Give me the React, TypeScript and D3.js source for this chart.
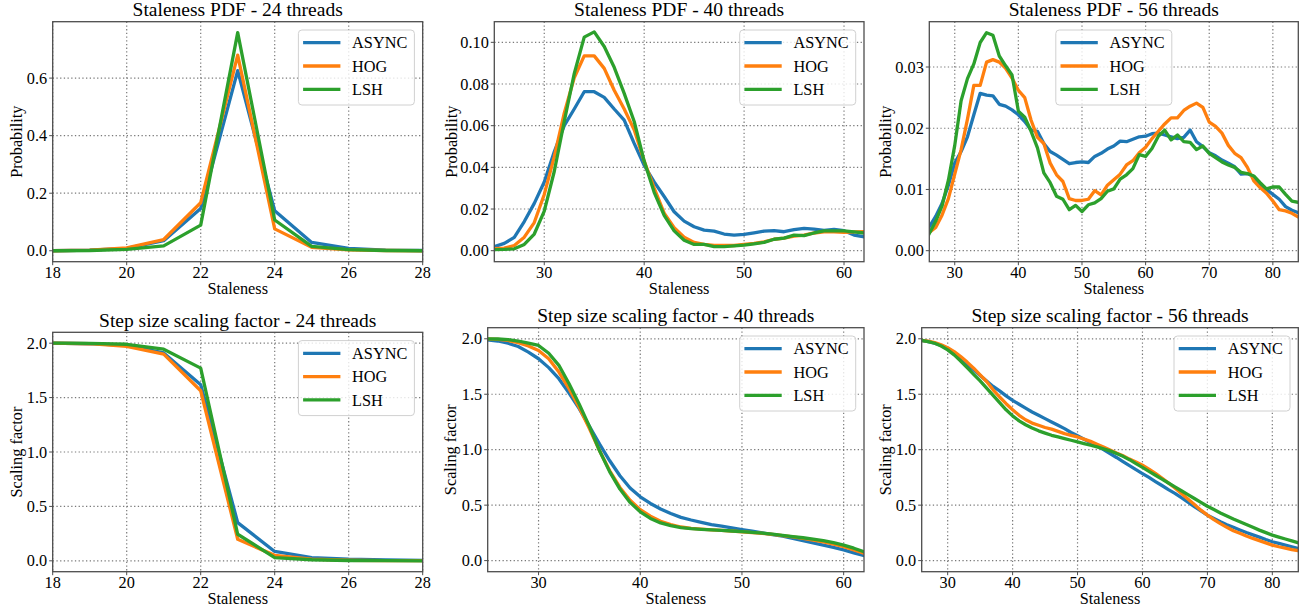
import React, { useRef, useEffect } from "react";
import * as d3 from "d3";

const SERIES = ["ASYNC", "HOG", "LSH"];
const COLORS = ["#1f77b4", "#ff7f0e", "#2ca02c"];

// staleness values (x axis)
const stal24 = d3.range(18, 29);
const stal40 = d3.range(25, 63);
const stal56 = d3.range(26, 85);

// staleness pdf, 24 threads
const pdf24Async = [0, 0.002, 0.008, 0.035, 0.147, 0.626, 0.139, 0.029, 0.008, 0.002, 0.001];
const pdf24Hog = [0, 0.002, 0.01, 0.039, 0.167, 0.68, 0.076, 0.012, 0.003, 0.001, 0];
const pdf24Lsh = [0, 0.001, 0.005, 0.017, 0.089, 0.758, 0.107, 0.015, 0.004, 0.001, 0];

// staleness pdf, 40 threads
const pdf40Async = [0.0019, 0.0035, 0.0064, 0.014, 0.0227, 0.033, 0.0475, 0.06, 0.068, 0.0763, 0.0763, 0.0736,
  0.068, 0.0627, 0.0515, 0.041, 0.033, 0.026, 0.0187, 0.0142, 0.0115, 0.0099, 0.0094, 0.008, 0.0075, 0.0078,
  0.0086, 0.0094, 0.0096, 0.0091, 0.0101, 0.0107, 0.0104, 0.0098, 0.0102, 0.0096, 0.0075, 0.0067];
const pdf40Hog = [0.001, 0.0012, 0.0025, 0.0065, 0.0135, 0.027, 0.045, 0.066, 0.083, 0.0935, 0.0935, 0.0875,
  0.077, 0.068, 0.058, 0.043, 0.03, 0.018, 0.011, 0.0065, 0.004, 0.003, 0.0025, 0.0025, 0.0025, 0.003,
  0.0035, 0.0042, 0.0055, 0.006, 0.007, 0.0075, 0.0085, 0.009, 0.009, 0.0088, 0.009, 0.0092];
const pdf40Lsh = [0.0005, 0.0006, 0.0009, 0.003, 0.008, 0.019, 0.038, 0.062, 0.085, 0.1025, 0.105, 0.098,
  0.088, 0.0755, 0.062, 0.043, 0.028, 0.017, 0.0095, 0.005, 0.003, 0.003, 0.002, 0.002, 0.0023, 0.0027,
  0.0033, 0.004, 0.0055, 0.006, 0.0075, 0.0072, 0.0085, 0.0095, 0.0095, 0.0095, 0.009, 0.0085];

// staleness pdf, 56 threads
const pdf56Async = [0.0039, 0.0056, 0.0077, 0.0107, 0.0143, 0.0162, 0.0186, 0.0222, 0.0257, 0.0254, 0.0253,
  0.0239, 0.0236, 0.023, 0.0222, 0.0211, 0.0197, 0.0195, 0.0175, 0.0162, 0.0156, 0.0149, 0.0142, 0.0144,
  0.0145, 0.0144, 0.0154, 0.0159, 0.0166, 0.0171, 0.0179, 0.0178, 0.0182, 0.0186, 0.0187, 0.0191, 0.0192,
  0.0189, 0.0186, 0.0183, 0.0185, 0.0197, 0.0178, 0.017, 0.016, 0.0155, 0.0148, 0.0143, 0.0137, 0.0125,
  0.0126, 0.0121, 0.0105, 0.01, 0.0092, 0.0084, 0.0072, 0.0066, 0.0062];
const pdf56Hog = [0.003, 0.0038, 0.0058, 0.0085, 0.0125, 0.0165, 0.0215, 0.027, 0.027, 0.0308, 0.0312,
  0.0308, 0.0298, 0.0282, 0.0262, 0.025, 0.0213, 0.0185, 0.0175, 0.0143, 0.0124, 0.0113, 0.0085, 0.0082,
  0.0082, 0.0084, 0.0098, 0.0091, 0.0107, 0.0116, 0.0125, 0.014, 0.0147, 0.016, 0.0169, 0.0183, 0.0195,
  0.0207, 0.0217, 0.0217, 0.0229, 0.0236, 0.0241, 0.0234, 0.021, 0.0203, 0.0192, 0.0172, 0.0159, 0.0152,
  0.0136, 0.0114, 0.0103, 0.0094, 0.0081, 0.0067, 0.0065, 0.0061, 0.0055];
const pdf56Lsh = [0.0028, 0.0048, 0.0073, 0.0115, 0.0172, 0.0245, 0.0281, 0.0305, 0.034, 0.0356, 0.0352,
  0.0318, 0.0302, 0.0287, 0.0228, 0.0218, 0.0195, 0.0168, 0.0127, 0.0111, 0.0089, 0.0084, 0.0067, 0.0074,
  0.0064, 0.0075, 0.0078, 0.0085, 0.0097, 0.0101, 0.0117, 0.0124, 0.0134, 0.0157, 0.0154, 0.0167, 0.0187,
  0.0197, 0.0181, 0.0189, 0.0178, 0.0177, 0.0165, 0.0171, 0.0159, 0.0152, 0.0145, 0.014, 0.0136, 0.0128,
  0.0126, 0.0122, 0.0111, 0.0101, 0.0104, 0.0104, 0.0092, 0.0081, 0.0079];

// step size scaling factor, 24 threads
const step24Async = [2.0, 1.995, 1.98, 1.91, 1.618, 0.351, 0.086, 0.03, 0.015, 0.008, 0.005];
const step24Hog = [2.0, 1.995, 1.97, 1.9, 1.563, 0.198, 0.05, 0.015, 0.005, 0.002, 0.001];
const step24Lsh = [2.0, 1.998, 1.99, 1.945, 1.771, 0.244, 0.03, 0.01, 0.003, 0.001, 0];

// step size scaling factor, 40 threads
const step40Async = [1.99, 1.98, 1.96, 1.93, 1.88, 1.82, 1.74, 1.64, 1.51, 1.37, 1.21, 1.05, 0.9, 0.765,
  0.655, 0.575, 0.515, 0.465, 0.425, 0.39, 0.366, 0.345, 0.325, 0.31, 0.295, 0.28, 0.265, 0.25, 0.235, 0.22,
  0.2, 0.18, 0.16, 0.14, 0.12, 0.096, 0.07, 0.045];
const step40Hog = [2.0, 1.995, 1.985, 1.965, 1.935, 1.895, 1.82, 1.7, 1.55, 1.38, 1.19, 0.99, 0.81, 0.66,
  0.545, 0.46, 0.4, 0.355, 0.325, 0.303, 0.29, 0.283, 0.277, 0.272, 0.267, 0.26, 0.253, 0.245, 0.236, 0.226,
  0.215, 0.2, 0.185, 0.168, 0.148, 0.126, 0.097, 0.066];
const step40Lsh = [2.0, 1.998, 1.993, 1.98, 1.96, 1.94, 1.87, 1.76, 1.595, 1.41, 1.21, 0.99, 0.8, 0.645,
  0.525, 0.44, 0.38, 0.34, 0.315, 0.298, 0.288, 0.282, 0.277, 0.272, 0.267, 0.262, 0.255, 0.247, 0.238,
  0.228, 0.217, 0.206, 0.194, 0.18, 0.162, 0.14, 0.112, 0.08];

// step size scaling factor, 56 threads
const step56Async = [1.985, 1.975, 1.96, 1.94, 1.91, 1.87, 1.82, 1.77, 1.72, 1.67, 1.62, 1.57, 1.53, 1.485,
  1.445, 1.41, 1.375, 1.34, 1.31, 1.28, 1.25, 1.22, 1.19, 1.155, 1.125, 1.095, 1.065, 1.035, 1.0, 0.965,
  0.93, 0.893, 0.857, 0.82, 0.785, 0.75, 0.713, 0.677, 0.64, 0.606, 0.567, 0.527, 0.487, 0.448, 0.41, 0.38,
  0.35, 0.324, 0.3, 0.276, 0.253, 0.232, 0.212, 0.19, 0.17, 0.155, 0.14, 0.125, 0.11];
const step56Hog = [1.985, 1.978, 1.965, 1.945, 1.92, 1.885, 1.84, 1.79, 1.735, 1.675, 1.615, 1.54, 1.475,
  1.415, 1.36, 1.31, 1.27, 1.24, 1.22, 1.2, 1.185, 1.165, 1.145, 1.13, 1.115, 1.095, 1.075, 1.05, 1.025,
  0.998, 0.97, 0.945, 0.915, 0.89, 0.86, 0.825, 0.787, 0.745, 0.7, 0.655, 0.605, 0.555, 0.505, 0.455, 0.41,
  0.37, 0.333, 0.3, 0.27, 0.246, 0.222, 0.2, 0.18, 0.16, 0.14, 0.125, 0.112, 0.1, 0.09];
const step56Lsh = [1.985, 1.975, 1.96, 1.935, 1.9, 1.855, 1.8, 1.74, 1.68, 1.62, 1.555, 1.49, 1.425, 1.36,
  1.305, 1.26, 1.225, 1.195, 1.17, 1.15, 1.13, 1.115, 1.1, 1.085, 1.07, 1.055, 1.04, 1.025, 1.008, 0.99,
  0.965, 0.94, 0.91, 0.875, 0.84, 0.805, 0.77, 0.735, 0.7, 0.665, 0.63, 0.595, 0.56, 0.525, 0.49, 0.46,
  0.43, 0.402, 0.375, 0.35, 0.325, 0.3, 0.275, 0.252, 0.23, 0.212, 0.195, 0.178, 0.16];

const ticks24 = [18, 20, 22, 24, 26, 28];
const ticks40 = [30, 40, 50, 60];
const ticks56 = [30, 40, 50, 60, 70, 80];
const pdf24YTicks = [0, 0.2, 0.4, 0.6];
const pdf40YTicks = [0, 0.02, 0.04, 0.06, 0.08, 0.1];
const pdf56YTicks = [0, 0.01, 0.02, 0.03];
const stepYTicks = [0, 0.5, 1, 1.5, 2];

const FONT = "'Liberation Serif', 'Times New Roman', 'DejaVu Serif', serif";
const FS = 16.3;
const TITLE_FS = 19.5;

const panels = [
  {
    title: "Staleness PDF - 24 threads", ylabel: "Probability",
    x: stal24, series: [pdf24Async, pdf24Hog, pdf24Lsh],
    xDomain: [18, 28], yDomain: [-0.038, 0.796], xTicks: ticks24, yTicks: pdf24YTicks, yFmt: ".1f",
    box: [52.7, 21.7, 422.7, 261.7], yLabelX: 21.5, legend: "right",
  },
  {
    title: "Staleness PDF - 40 threads", ylabel: "Probability",
    x: stal40, series: [pdf40Async, pdf40Hog, pdf40Lsh],
    xDomain: [25, 62], yDomain: [-0.00528, 0.1099], xTicks: ticks40, yTicks: pdf40YTicks, yFmt: ".2f",
    box: [494.3, 21.7, 864, 261.7], yLabelX: 456.5, legend: "right",
  },
  {
    title: "Staleness PDF - 56 threads", ylabel: "Probability",
    x: stal56, series: [pdf56Async, pdf56Hog, pdf56Lsh],
    xDomain: [26, 84], yDomain: [-0.0018, 0.0374], xTicks: ticks56, yTicks: pdf56YTicks, yFmt: ".2f",
    box: [929.3, 21.7, 1298.3, 261.7], yLabelX: 891, legend: "center",
  },
  {
    title: "Step size scaling factor - 24 threads", ylabel: "Scaling factor",
    x: stal24, series: [step24Async, step24Hog, step24Lsh],
    xDomain: [18, 28], yDomain: [-0.1, 2.1], xTicks: ticks24, yTicks: stepYTicks, yFmt: ".1f",
    box: [52.7, 332.3, 422.7, 571.7], yLabelX: 21.5, legend: "right",
  },
  {
    title: "Step size scaling factor - 40 threads", ylabel: "Scaling factor",
    x: stal40, series: [step40Async, step40Hog, step40Lsh],
    xDomain: [25, 62], yDomain: [-0.1, 2.1], xTicks: ticks40, yTicks: stepYTicks, yFmt: ".1f",
    box: [487.7, 327.7, 864, 571.7], yLabelX: 455.5, legend: "right",
  },
  {
    title: "Step size scaling factor - 56 threads", ylabel: "Scaling factor",
    x: stal56, series: [step56Async, step56Hog, step56Lsh],
    xDomain: [26, 84], yDomain: [-0.1, 2.1], xTicks: ticks56, yTicks: stepYTicks, yFmt: ".1f",
    box: [921.7, 327.7, 1298.3, 571.7], yLabelX: 890.5, legend: "right",
  },
];

function drawPanel(svg, p, idx) {
  const [x0, y0, x1, y1] = p.box;
  const x = d3.scaleLinear().domain(p.xDomain).range([x0, x1]);
  const y = d3.scaleLinear().domain(p.yDomain).range([y1, y0]);
  const g = svg.append("g");

  const clipId = `clip-${idx}`;
  svg.append("defs").append("clipPath").attr("id", clipId)
    .append("rect").attr("x", x0).attr("y", y0).attr("width", x1 - x0).attr("height", y1 - y0);

  // grid
  const grid = g.append("g").attr("stroke", "#7a7a7a").attr("stroke-width", 1.2)
    .attr("stroke-dasharray", "1.3,2.4");
  p.xTicks.forEach((t) => {
    grid.append("line").attr("x1", x(t)).attr("x2", x(t)).attr("y1", y0).attr("y2", y1);
  });
  p.yTicks.forEach((t) => {
    grid.append("line").attr("x1", x0).attr("x2", x1).attr("y1", y(t)).attr("y2", y(t));
  });

  // lines
  const line = d3.line().x((d) => x(d[0])).y((d) => y(d[1]));
  const lines = g.append("g").attr("clip-path", `url(#${clipId})`);
  p.series.forEach((vals, i) => {
    lines.append("path")
      .datum(p.x.map((s, j) => [s, vals[j]]))
      .attr("d", line)
      .attr("fill", "none")
      .attr("stroke", COLORS[i])
      .attr("stroke-width", 3.3)
      .attr("stroke-linejoin", "round")
      .attr("stroke-linecap", "square");
  });

  // spines
  g.append("rect").attr("x", x0).attr("y", y0).attr("width", x1 - x0).attr("height", y1 - y0)
    .attr("fill", "none").attr("stroke", "#4d4d4d").attr("stroke-width", 1.3);

  // ticks + labels
  const fmt = d3.format(p.yFmt);
  p.xTicks.forEach((t) => {
    g.append("line").attr("x1", x(t)).attr("x2", x(t)).attr("y1", y1).attr("y2", y1 + 3.5)
      .attr("stroke", "#4d4d4d").attr("stroke-width", 1);
    g.append("text").attr("x", x(t)).attr("y", y1 + 16.6).attr("text-anchor", "middle")
      .attr("font-family", FONT).attr("font-size", FS).text(t);
  });
  p.yTicks.forEach((t) => {
    g.append("line").attr("x1", x0 - 3.5).attr("x2", x0).attr("y1", y(t)).attr("y2", y(t))
      .attr("stroke", "#4d4d4d").attr("stroke-width", 1);
    g.append("text").attr("x", x0 - 5.5).attr("y", y(t) + 5.5).attr("text-anchor", "end")
      .attr("font-family", FONT).attr("font-size", FS).text(fmt(t));
  });

  // title and axis labels
  g.append("text").attr("x", (x0 + x1) / 2).attr("y", y0 - 5.5).attr("text-anchor", "middle")
    .attr("font-family", FONT).attr("font-size", TITLE_FS).text(p.title);
  g.append("text").attr("x", (x0 + x1) / 2).attr("y", y1 + 32.3).attr("text-anchor", "middle")
    .attr("font-family", FONT).attr("font-size", FS).text("Staleness");
  const cy = (y0 + y1) / 2;
  g.append("text").attr("transform", `translate(${p.yLabelX},${cy}) rotate(-90)`)
    .attr("text-anchor", "middle").attr("font-family", FONT).attr("font-size", FS).text(p.ylabel);

  // legend
  const lw = 116;
  const lh = 75;
  const lx = p.legend === "center" ? (x0 + x1) / 2 - lw / 2 : x1 - 8.3 - lw;
  const ly = y0 + 8.3;
  const leg = g.append("g");
  leg.append("rect").attr("x", lx).attr("y", ly).attr("width", lw).attr("height", lh)
    .attr("rx", 3.5).attr("fill", "white").attr("fill-opacity", 0.8)
    .attr("stroke", "#d0d0d0").attr("stroke-width", 1);
  SERIES.forEach((name, i) => {
    const ry = ly + 12.7 + i * 23.3;
    leg.append("line").attr("x1", lx + 4.7).attr("x2", lx + 42).attr("y1", ry).attr("y2", ry)
      .attr("stroke", COLORS[i]).attr("stroke-width", 3.3);
    leg.append("text").attr("x", lx + 53.7).attr("y", ry + 5.6)
      .attr("font-family", FONT).attr("font-size", FS).text(name);
  });
}

export default function App() {
  const ref = useRef(null);

  useEffect(() => {
    const svg = d3.select(ref.current);
    svg.selectAll("*").remove();
    panels.forEach((p, i) => drawPanel(svg, p, i));
  }, []);

  return (
    <svg
      ref={ref}
      width={1304}
      height={611}
      style={{ position: "absolute", left: 0, top: 0, background: "white" }}
    />
  );
}
